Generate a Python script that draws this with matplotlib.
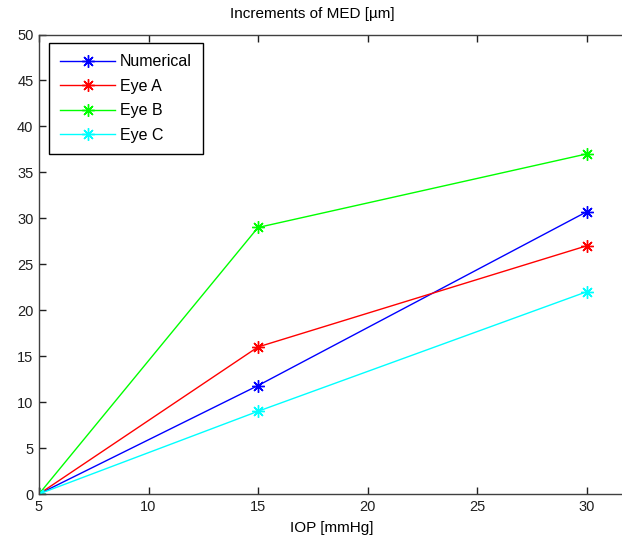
import matplotlib.pyplot as plt

plt.rcParams['font.family'] = ['Liberation Sans', 'DejaVu Sans']

iop = [5, 15, 30]
numerical = [0, 11.8, 30.7]
eye_a = [0, 16.0, 27.0]
eye_b = [0, 29.0, 37.0]
eye_c = [0, 9.0, 22.0]
x_ticks = [5, 10, 15, 20, 25, 30]
y_ticks = list(range(0, 51, 5))

series = [("Numerical", numerical, "#0000ff"),
          ("Eye A", eye_a, "#ff0000"),
          ("Eye B", eye_b, "#00ff00"),
          ("Eye C", eye_c, "#00ffff")]

W, H = 622, 546
fig = plt.figure(figsize=(W / 100, H / 100), dpi=100)
# axes run past the right edge of the figure (x limit 35)
x0, x1, y0, y1 = 39, 696, 494, 34.5
ax = fig.add_axes([x0 / W, 1 - y0 / H, (x1 - x0) / W, (y0 - y1) / H])

for name, vals, col in series:
    ax.plot(iop, vals, color=col, lw=1, marker=(8, 2, 0), ms=9, mew=1,
            label=name)

ax.set_xlim(5, 35)
ax.set_ylim(0, 50)
ax.set_xticks(x_ticks)
ax.set_yticks(y_ticks)
ax.tick_params(direction='in', length=5, width=1, labelsize=10.5,
               colors='#202020', top=True, right=True, pad=4)
for s in ax.spines.values():
    s.set_color('#404040')
    s.set_linewidth(1)

leg = ax.legend(loc='upper left', bbox_to_anchor=(0.0152, 0.9815),
                borderaxespad=0, fancybox=False, edgecolor='black',
                framealpha=1, fontsize=11.5, handlelength=3.45,
                labelspacing=0.6, borderpad=0.7, handletextpad=0.3)
leg.get_frame().set_linewidth(1)

fig.text(312 / W, 1 - 14 / H, "Increments of MED [µm]", ha='center',
         va='center', fontsize=11)
fig.text(332 / W, 1 - 528 / H, "IOP [mmHg]", ha='center', va='center',
         fontsize=11)

fig.savefig("out.png", dpi=100)
